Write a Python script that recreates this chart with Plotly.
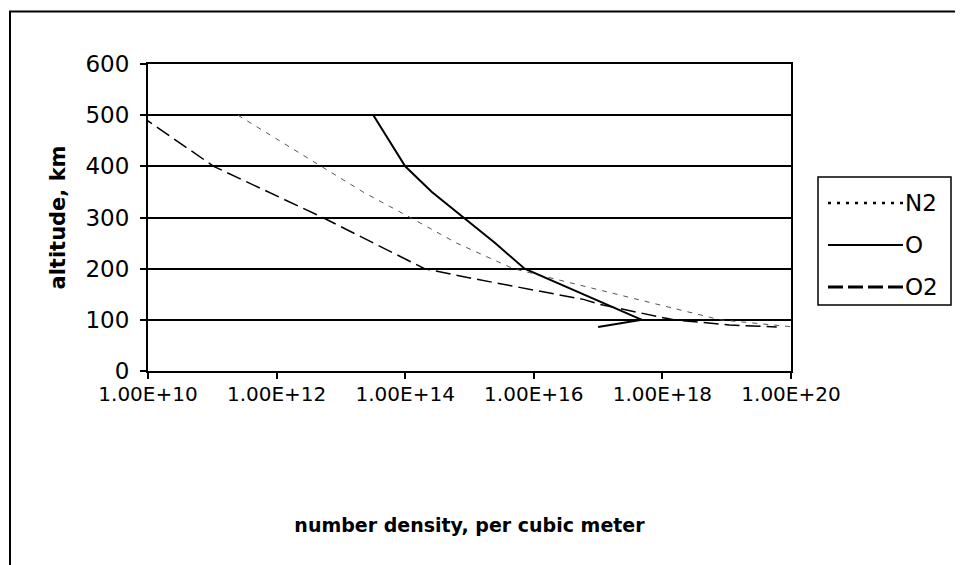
import plotly.graph_objects as go

# ---- data ----
species = ["N2", "O", "O2"]

alt_n2 = [500, 400, 350, 300, 250, 200, 150, 120, 100, 86]
dens_n2 = [2.5e11, 5.0e12, 2.2e13, 1.2e14, 6.3e14, 4.8e15, 2.0e17, 1.9e18, 7.9e18, 1.12e20]

alt_o = [500, 400, 350, 300, 250, 200, 150, 100, 86]
dens_o = [3.2e13, 1.0e14, 2.6e14, 7.9e14, 2.5e15, 7.2e15, 5.9e16, 4.8e17, 1.0e17]

alt_o2 = [500, 400, 300, 200, 180, 160, 150, 140, 130, 120, 110, 100, 90, 86]
dens_o2 = [7.4e9, 1.05e11, 5.2e12, 2.0e14, 1.2e15, 8.7e15, 2.4e16, 5.9e16, 1.07e17,
           2.5e17, 5.8e17, 1.5e18, 1.1e19, 6.0e19]

x_tickvals = [1e10, 1e12, 1e14, 1e16, 1e18, 1e20]
x_ticktext = ["1.00E+10", "1.00E+12", "1.00E+14", "1.00E+16", "1.00E+18", "1.00E+20"]
y_tickvals = [0, 100, 200, 300, 400, 500, 600]

x_title = "number density, per cubic meter"
y_title = "altitude, km"

# ---- styles ----
FONT = "DejaVu Sans, Verdana, sans-serif"
plot_styles = {
    "N2": dict(color="#555555", width=1, dash="5px,6px"),
    "O": dict(color="black", width=2, dash="solid"),
    "O2": dict(color="black", width=1.5, dash="15px,6px"),
}
legend_styles = {
    "N2": dict(color="black", width=2.5, dash="3px,6px"),
    "O": dict(color="black", width=2, dash="solid"),
    "O2": dict(color="black", width=3, dash="15px,5px"),
}

series = {"N2": (dens_n2, alt_n2), "O": (dens_o, alt_o), "O2": (dens_o2, alt_o2)}

fig = go.Figure()
for name in species:
    xs, ys = series[name]
    fig.add_trace(go.Scatter(x=xs, y=ys, mode="lines", name=name,
                             line=plot_styles[name], showlegend=False))

# page offset (browser body margin)
OFF = 8
W, H = 963 - OFF, 565 - OFF
PL, PR, PT, PB = 148 - OFF, 791 - OFF, 64 - OFF, 371 - OFF   # plot area in figure px
ML, MR, MT, MB = PL, W - PR, PT, H - PB
PW, PH = PR - PL, PB - PT


def px(xp):  # page px -> paper
    return (xp - OFF - PL) / PW


def py(yp):
    return (PB - (yp - OFF)) / PH


shapes = []
annotations = []
# outer chart frame
shapes.append(dict(type="rect", xref="paper", yref="paper",
                   x0=px(10), x1=px(985), y0=py(11.5), y1=py(590),
                   line=dict(color="black", width=2), fillcolor="rgba(0,0,0,0)",
                   layer="below"))
# custom legend
shapes.append(dict(type="rect", xref="paper", yref="paper",
                   x0=px(818), x1=px(951), y0=py(177), y1=py(305),
                   line=dict(color="black", width=1.5), fillcolor="white"))
entry_y = [203, 245, 287]
for name, ey in zip(species, entry_y):
    shapes.append(dict(type="line", xref="paper", yref="paper",
                       x0=px(828), x1=px(903), y0=py(ey), y1=py(ey),
                       line=legend_styles[name]))
    annotations.append(dict(text=name, xref="paper", yref="paper",
                            x=px(903), y=py(ey), xanchor="left", yanchor="middle",
                            showarrow=False, font=dict(family=FONT, size=23, color="black")))

fig.update_layout(
    width=W, height=H,
    margin=dict(l=ML, r=MR, t=MT, b=MB, autoexpand=False),
    paper_bgcolor="white", plot_bgcolor="white",
    font=dict(family=FONT, size=20, color="black"),
    shapes=shapes, annotations=annotations,
    xaxis=dict(type="log", range=[10, 20], tickvals=x_tickvals, ticktext=x_ticktext,
               showgrid=False, zeroline=False, showline=True, linecolor="black",
               linewidth=2, mirror=True, ticks="outside", ticklen=6, tickwidth=1.5,
               tickcolor="black", tickfont=dict(size=20), ticklabelstandoff=-2,
               title=dict(text="<b>" + x_title + "</b>", font=dict(size=19), standoff=114)),
    yaxis=dict(range=[0, 600], tickvals=y_tickvals, showgrid=True, gridcolor="black",
               gridwidth=1.6, zeroline=False, showline=True, linecolor="black",
               linewidth=2, mirror=True, ticks="outside", ticklen=6, tickwidth=1.5,
               tickcolor="black", tickfont=dict(size=23), ticklabelstandoff=6,
               title=dict(text="<b>" + y_title + "</b>", font=dict(size=21), standoff=14)),
    yaxis2=dict(range=[0, 600], tickvals=y_tickvals, overlaying="y", anchor="x",
                side="left", showgrid=False, zeroline=False, showline=False,
                ticks="inside", ticklen=6, tickwidth=1.5, tickcolor="black",
                showticklabels=False),
)

fig.write_html("out.html")
